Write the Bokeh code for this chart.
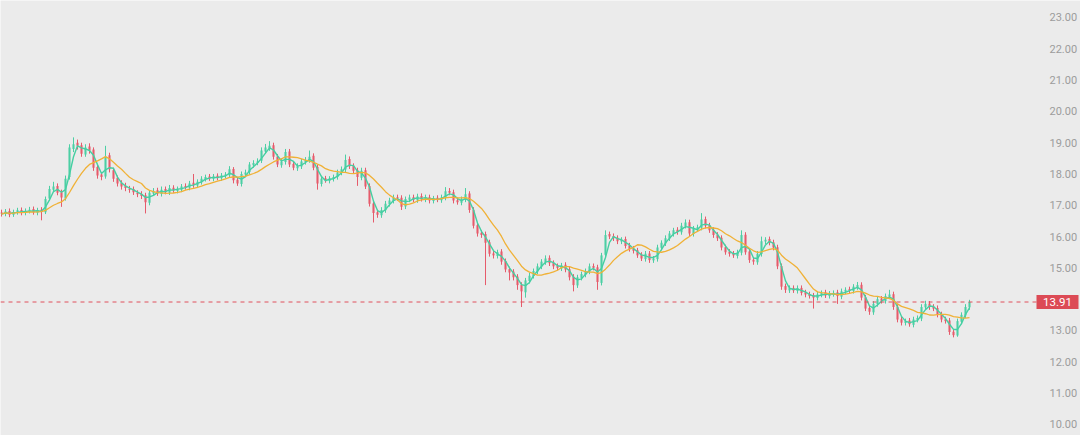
import numpy as np
import pandas as pd
from bokeh.plotting import figure
from bokeh.models import ColumnDataSource, Range1d
from bokeh.core.properties import value
from bokeh.embed import file_html
from bokeh.resources import INLINE

opens = [
    16.78,16.72,16.82,16.70,16.76,16.85,16.75,16.80,16.88,16.76,
    16.86,16.78,17.22,17.50,17.62,17.42,17.22,17.90,18.80,19.00,
    18.92,18.62,18.88,18.78,18.22,17.98,17.92,18.60,18.12,17.88,
    17.72,17.62,17.52,17.52,17.40,17.36,17.32,17.08,17.38,17.48,
    17.36,17.52,17.40,17.56,17.46,17.50,17.62,17.56,17.72,17.63,
    17.74,17.84,17.92,17.85,17.94,17.86,17.94,17.96,18.16,17.82,
    17.68,17.98,18.06,18.28,18.36,18.42,18.72,18.82,18.92,18.56,
    18.28,18.38,18.72,18.32,18.18,18.24,18.38,18.44,18.58,18.22,
    17.68,17.86,17.78,17.84,17.90,18.04,18.14,18.48,18.26,18.12,
    17.88,18.12,17.62,17.06,16.78,16.68,16.84,17.04,17.14,17.26,
    17.24,16.96,17.18,17.26,17.16,17.30,17.18,17.26,17.14,17.24,
    17.16,17.24,17.46,17.42,17.16,17.08,17.18,17.38,16.86,16.36,
    16.12,16.08,15.82,15.46,15.38,15.52,15.22,14.96,14.88,14.72,
    14.46,14.22,14.58,14.74,14.88,15.04,15.18,15.32,15.16,15.06,
    14.98,15.10,14.96,14.72,14.44,14.68,14.78,14.88,15.06,15.02,
    14.52,15.42,16.08,16.02,15.96,15.84,15.92,15.72,15.62,15.56,
    15.42,15.28,15.46,15.24,15.28,15.64,15.78,15.94,16.08,16.22,
    16.14,16.34,16.46,16.08,16.24,16.28,16.56,16.36,16.22,16.06,
    15.96,15.66,15.52,15.46,15.38,15.48,16.06,15.52,15.26,15.18,
    15.44,15.84,15.92,15.82,15.66,15.06,14.42,14.28,14.36,14.26,
    14.36,14.22,14.16,14.12,14.04,14.14,14.22,14.10,14.16,14.22,
    14.08,14.24,14.32,14.26,14.38,14.46,14.06,13.72,13.58,13.84,
    14.02,13.94,14.08,14.16,13.76,13.36,13.24,13.32,13.18,13.34,
    13.38,13.74,13.86,13.76,13.72,13.52,13.36,13.32,12.96,12.84,
    13.28,13.48,13.74,
]

closes = [
    16.72,16.80,16.70,16.78,16.84,16.76,16.82,16.86,16.78,16.84,
    16.80,17.20,17.52,17.60,17.40,17.25,17.85,18.85,18.95,18.90,
    18.65,18.85,18.75,18.20,17.95,17.90,18.55,18.15,17.85,17.70,
    17.60,17.55,17.50,17.42,17.35,17.30,17.10,17.40,17.45,17.38,
    17.50,17.42,17.55,17.48,17.52,17.60,17.58,17.70,17.65,17.75,
    17.85,17.90,17.86,17.92,17.88,17.95,17.98,18.15,17.80,17.70,
    18.00,18.05,18.30,18.35,18.40,18.75,18.85,18.90,18.55,18.30,
    18.40,18.70,18.30,18.20,18.25,18.40,18.45,18.55,18.20,17.70,
    17.85,17.80,17.85,17.90,18.05,18.15,18.45,18.25,18.10,17.90,
    18.10,17.60,17.05,16.75,16.70,16.85,17.05,17.15,17.25,17.22,
    16.95,17.20,17.25,17.18,17.28,17.20,17.25,17.15,17.22,17.18,
    17.25,17.45,17.40,17.15,17.10,17.20,17.35,16.85,16.35,16.10,
    16.05,15.80,15.45,15.40,15.50,15.20,14.95,14.85,14.70,14.45,
    14.25,14.60,14.75,14.90,15.05,15.20,15.30,15.15,15.05,15.00,
    15.08,14.95,14.70,14.45,14.70,14.80,14.90,15.05,15.00,14.55,
    15.40,16.05,16.00,15.95,15.85,15.90,15.70,15.60,15.55,15.40,
    15.30,15.45,15.25,15.30,15.65,15.80,15.95,16.10,16.20,16.15,
    16.35,16.45,16.10,16.25,16.30,16.55,16.35,16.20,16.05,15.95,
    15.65,15.50,15.45,15.40,15.50,16.05,15.50,15.25,15.20,15.45,
    15.85,15.90,15.80,15.65,15.05,14.40,14.30,14.35,14.28,14.35,
    14.20,14.15,14.10,14.05,14.15,14.20,14.12,14.18,14.20,14.10,
    14.25,14.30,14.28,14.40,14.45,14.05,13.70,13.60,13.85,14.00,
    13.95,14.10,14.15,13.75,13.35,13.25,13.30,13.20,13.35,13.40,
    13.75,13.85,13.75,13.70,13.50,13.35,13.30,12.95,12.85,13.30,
    13.50,13.75,13.91,
]

highs = [
    16.86,16.88,16.90,16.86,16.92,16.93,16.90,16.95,16.96,16.92,
    16.94,17.28,17.62,17.75,17.70,17.50,17.95,18.95,19.17,19.10,
    19.00,18.95,18.98,18.85,18.30,18.06,18.90,18.68,18.20,17.95,
    17.80,17.72,17.62,17.60,17.48,17.45,17.40,17.48,17.55,17.56,
    17.60,17.60,17.65,17.64,17.60,17.68,17.70,17.78,18.00,17.83,
    17.93,17.98,18.00,18.00,18.02,18.03,18.06,18.25,18.22,17.90,
    18.08,18.14,18.38,18.44,18.50,18.85,18.96,19.05,19.00,18.64,
    18.50,18.80,18.80,18.40,18.34,18.48,18.54,18.75,18.66,18.30,
    17.94,17.94,17.93,17.98,18.14,18.24,18.62,18.56,18.34,18.20,
    18.20,18.20,17.70,17.14,16.86,16.94,17.14,17.24,17.34,17.34,
    17.32,17.28,17.34,17.34,17.37,17.38,17.34,17.34,17.30,17.32,
    17.34,17.58,17.55,17.50,17.24,17.28,17.55,17.45,16.94,16.44,
    16.20,16.16,15.90,15.55,15.58,15.60,15.30,15.04,14.96,14.80,
    14.54,14.68,14.84,14.98,15.14,15.28,15.40,15.40,15.24,15.14,
    15.16,15.18,15.04,14.80,14.78,14.88,14.98,15.14,15.14,15.10,
    15.48,16.20,16.16,16.10,16.04,15.98,16.00,15.80,15.70,15.64,
    15.50,15.54,15.54,15.38,15.74,15.88,16.04,16.18,16.28,16.30,
    16.44,16.55,16.54,16.34,16.38,16.75,16.64,16.44,16.30,16.14,
    16.04,15.74,15.60,15.54,15.58,16.20,16.14,15.60,15.34,15.54,
    16.00,15.98,16.00,15.90,15.74,15.14,14.50,14.44,14.44,14.44,
    14.44,14.30,14.24,14.20,14.24,14.28,14.30,14.26,14.28,14.30,
    14.34,14.38,14.40,14.48,14.55,14.54,14.14,13.80,13.94,14.08,
    14.10,14.18,14.30,14.24,13.84,13.44,13.38,13.40,13.44,13.48,
    13.84,13.95,13.94,13.84,13.80,13.60,13.44,13.40,13.04,13.38,
    13.58,13.84,13.98,
]

lows = [
    16.64,16.65,16.62,16.63,16.70,16.68,16.68,16.74,16.70,16.68,
    16.52,16.72,17.15,17.42,17.32,16.95,17.15,17.82,18.70,18.78,
    18.55,18.55,18.65,18.10,17.85,17.80,17.85,18.05,17.75,17.60,
    17.50,17.45,17.40,17.33,17.26,17.20,16.74,17.00,17.30,17.30,
    17.28,17.35,17.33,17.40,17.38,17.42,17.50,17.48,17.56,17.55,
    17.66,17.76,17.78,17.77,17.80,17.78,17.86,17.88,17.70,17.62,
    17.60,17.90,17.98,18.20,18.28,18.35,18.64,18.74,18.46,18.22,
    18.20,18.30,18.22,18.12,18.10,18.16,18.30,18.36,18.12,17.50,
    17.60,17.72,17.70,17.76,17.82,17.96,18.06,18.16,18.02,17.62,
    17.80,17.52,16.96,16.45,16.60,16.60,16.76,16.96,17.06,17.14,
    16.85,16.88,17.10,17.10,17.08,17.12,17.10,17.06,17.06,17.10,
    17.08,17.16,17.32,17.06,17.02,17.00,17.10,16.76,16.26,16.00,
    15.96,14.45,15.36,15.30,15.30,15.10,14.86,14.60,14.60,14.30,
    13.75,14.05,14.50,14.66,14.80,14.96,15.10,15.06,14.96,14.92,
    14.90,14.86,14.60,14.25,14.36,14.60,14.70,14.80,14.92,14.30,
    14.44,15.34,15.92,15.86,15.76,15.76,15.62,15.52,15.46,15.32,
    15.22,15.20,15.16,15.16,15.20,15.56,15.70,15.86,16.00,16.06,
    16.06,16.26,16.02,16.00,16.16,16.20,16.26,16.12,15.96,15.86,
    15.56,15.42,15.36,15.32,15.30,15.40,15.42,15.16,15.10,15.10,
    15.36,15.76,15.72,15.56,14.96,14.30,14.20,14.20,14.20,14.18,
    14.12,14.06,14.02,13.70,13.96,14.06,14.04,14.02,14.08,13.85,
    14.00,14.16,14.20,14.18,14.30,13.96,13.62,13.50,13.50,13.76,
    13.86,13.86,14.00,13.66,13.26,13.16,13.16,13.12,13.10,13.26,
    13.30,13.66,13.66,13.62,13.42,13.26,13.22,12.86,12.78,12.80,
    13.20,13.40,13.66,
]

y_ticks = [10, 11, 12, 13, 14, 15, 16, 17, 18, 19, 20, 21, 22, 23]
last_price = 13.91
last_label = "13.91"

UP = "#4ccfa4"
DOWN = "#e65b6b"
BG = "#ebebeb"
FONT = value("Roboto")

n = min(len(opens), len(closes), len(highs), len(lows))
idx = np.arange(n)
o = np.array(opens[:n]); c = np.array(closes[:n])
h = np.array(highs[:n]); l = np.array(lows[:n])
colors = [UP if cc >= oo else DOWN for oo, cc in zip(o, c)]
src = ColumnDataSource(dict(x=idx, o=o, c=c, h=h, l=l,
                            top=np.maximum(o, c), bot=np.minimum(o, c), col=colors))

cs = pd.Series(c)
ma_fast = cs.rolling(3, min_periods=1).mean().values
ma_slow = cs.rolling(10, min_periods=1).mean().values

# layout: one candle slot = 4 px; the price scale is drawn in the right part of the plot
W, H = 1080, 435
X0, X1 = -0.25, 269.75          # full width of the plot area
PANE_END = 258.75               # right edge of the candle pane (price-scale starts here)
LABEL_X = 262.0                 # left edge of price-scale labels
Y0, Y1 = 9.645, 23.543
px_per_unit = H / (Y1 - Y0)
half_box = 7.0 / px_per_unit

p = figure(width=W, height=H, output_backend="svg", toolbar_location=None,
           x_range=Range1d(X0, X1), y_range=Range1d(Y0, Y1),
           x_axis_location=None, y_axis_location=None,
           min_border=0, background_fill_color=BG, border_fill_color=BG,
           outline_line_color=None)
p.styles = {"position": "absolute", "left": "0px", "top": "0px"}
p.grid.visible = False

p.segment(x0="x", y0="h", x1="x", y1="l", color="col", line_width=1, source=src)
p.vbar(x="x", top="top", bottom="bot", width=0.52, fill_color="col", line_color=None,
       source=src)
p.line(idx, ma_fast, line_color="#45cfa2", line_width=1.4)
p.line(idx, ma_slow, line_color="#f0b136", line_width=1.3)

# last-price dashed line
p.segment(x0=[X0], y0=[last_price], x1=[PANE_END], y1=[last_price],
          line_color="#e0505c", line_dash="4 4", line_width=1)

# price scale labels
tick_src = ColumnDataSource(dict(y=y_ticks, t=[f"{v:.2f}" for v in y_ticks],
                                 x=[LABEL_X] * len(y_ticks)))
p.text(x="x", y="y", text="t", source=tick_src, text_align="left",
       text_baseline="middle", text_color="#9c9c9c", text_font=FONT,
       text_font_size="11px")

# last-price tag
p.quad(left=[PANE_END], right=[PANE_END + 10.5], bottom=[last_price - half_box],
       top=[last_price + half_box], fill_color="#dc4a55", line_color=None)
p.text(x=[PANE_END + 5.25], y=[last_price], text=[last_label], text_align="center",
       text_baseline="middle", text_color="white", text_font=FONT,
       text_font_size="11.5px")

open("out.html", "w").write(file_html(p, INLINE))
